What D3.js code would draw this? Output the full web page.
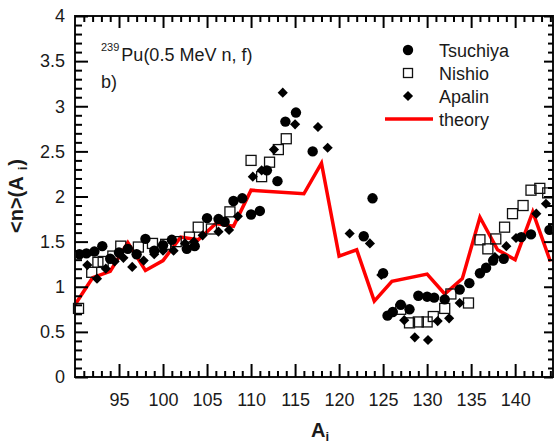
<!DOCTYPE html>
<html lang="en">
<head>
<meta charset="utf-8">
<title>239Pu neutron multiplicity</title>
<script src="https://cdn.jsdelivr.net/npm/d3@7"></script>
<style>
  body { margin: 0; background: #fff; }
  svg { display: block; }
  svg text { font-family: "Liberation Sans", Arial, sans-serif; fill: #1a1a1a; }
  .tick-label { font-size: 18px; }
</style>
</head>
<body>
<div id="chart"></div>
<script>
// data: [A, <n>]
var tsuchiya = [[90.5,1.36],[91.3,1.37],[92.2,1.39],[93.1,1.45],[94.0,1.31],[95.0,1.38],[96.0,1.42],[97.0,1.36],
  [98.0,1.53],[99.0,1.40],[100.0,1.46],[101.0,1.52],[102.7,1.42],[103.6,1.45],[105.0,1.76],[106.3,1.75],
  [107.0,1.72],[108.0,1.95],[109.0,1.98],[110.0,1.80],[111.0,1.84],[111.8,2.29],[113.0,2.17],[113.9,2.83],
  [115.1,2.93],[117.0,2.50],[122.8,1.56],[123.8,1.98],[125.0,1.15],[125.5,0.68],[126.1,0.72],[127.0,0.80],
  [128.0,0.75],[129.0,0.90],[130.0,0.89],[130.8,0.88],[132.0,0.86],[133.7,0.97],[134.8,1.04],[136.0,1.15],
  [136.7,1.21],[137.5,1.29],[138.7,1.31],[140.7,1.55],[141.8,1.58],[143.9,1.63]];
var nishio = [[90.4,0.76],[91.9,1.16],[92.6,1.27],[93.2,1.28],[94.3,1.34],[95.2,1.45],[97.2,1.44],[98.8,1.48],
  [100.3,1.47],[101.5,1.50],[103.0,1.55],[104.0,1.66],[105.5,1.64],[107.6,1.83],[110.0,2.40],[111.2,2.22],
  [112.1,2.38],[113.1,2.52],[114.0,2.64],[127.0,0.75],[128.0,0.60],[129.0,0.61],[130.0,0.61],[130.7,0.67],
  [132.0,0.76],[132.7,0.92],[134.7,0.82],[136.0,1.52],[136.9,1.42],[137.8,1.53],[138.8,1.66],[139.7,1.81],
  [140.9,1.90],[141.8,2.07],[142.8,2.09],[143.7,2.04]];
var apalin = [[91.4,1.24],[92.5,1.09],[93.5,1.20],[94.5,1.28],[95.5,1.32],[96.5,1.22],[97.8,1.29],[99.0,1.36],
  [100.0,1.40],[101.2,1.40],[102.5,1.48],[103.5,1.50],[104.5,1.57],[106.3,1.61],[107.5,1.63],[108.5,1.78],
  [110.2,2.22],[111.2,2.29],[112.6,2.52],[113.6,3.15],[115.0,2.80],[117.6,2.77],[118.7,2.54],[121.2,1.59],
  [123.5,1.48],[124.8,1.13],[126.0,0.72],[127.4,0.63],[128.6,0.44],[130.1,0.41],[131.2,0.62],[132.5,0.65],
  [133.7,0.82],[137.7,1.33],[139.0,1.45],[140.1,1.54],[142.4,1.81],[143.5,1.92]];
var theoryA = [90,92,94,96,98,100,102,104,106,108,110,116,118,120,122,124,126,130,132,134,136,138,140,142,144];
var theoryN = [0.80,1.10,1.17,1.49,1.18,1.29,1.55,1.52,1.70,1.67,2.07,2.03,2.37,1.34,1.41,0.84,1.06,1.14,0.92,1.09,1.77,1.41,1.30,1.83,1.28];

var xMajor = [95,100,105,110,115,120,125,130,135,140];
var yMajor = [0,0.5,1,1.5,2,2.5,3,3.5,4];
var legendNames = ["Tsuchiya","Nishio","Apalin","theory"];

var W = 554, H = 444;
var pL = 75, pR = 553, pT = 16, pB = 377;

var svg = d3.select("#chart").append("svg").attr("width", W).attr("height", H);

var x = d3.scaleLinear().domain([90, 144.3]).range([pL, pR]);
var y = d3.scaleLinear().domain([0, 4]).range([pB, pT]);

var xMinor = d3.range(91, 145, 1).filter(function(v){ return v % 5 != 0; });
var yMinor = d3.range(1, 40, 1).filter(function(v){ return v % 5 != 0; }).map(function(v){ return v / 10; });

// tick labels through d3 axes
var xAxis = svg.append("g").attr("transform", "translate(0," + pB + ")")
  .call(d3.axisBottom(x).tickValues(xMajor).tickSize(0).tickPadding(16).tickFormat(d3.format("d")));
var yAxis = svg.append("g").attr("transform", "translate(" + pL + ",0)")
  .call(d3.axisLeft(y).tickValues(yMajor).tickSize(0).tickPadding(10).tickFormat(d3.format("")));
[xAxis, yAxis].forEach(function(g){
  g.select(".domain").remove();
  g.selectAll("text").attr("class", "tick-label");
});

var plot = svg.append("g");

// theory line
var line = d3.line().x(function(d){ return x(d[0]); }).y(function(d){ return y(d[1]); });
plot.append("path").datum(theoryA.map(function(a, i){ return [a, theoryN[i]]; }))
  .attr("d", line).attr("fill", "none").attr("stroke", "#ff0000").attr("stroke-width", 3.5)
  .attr("stroke-linejoin", "miter");

// markers
plot.selectAll(".nishio").data(nishio).enter().append("rect")
  .attr("x", function(d){ return x(d[0]) - 5; }).attr("y", function(d){ return y(d[1]) - 5; })
  .attr("width", 10).attr("height", 10).attr("fill", "none").attr("stroke", "#111").attr("stroke-width", 1.3);

plot.selectAll(".tsu").data(tsuchiya).enter().append("circle")
  .attr("cx", function(d){ return x(d[0]); }).attr("cy", function(d){ return y(d[1]); })
  .attr("r", 5.2).attr("fill", "#000");

plot.selectAll(".apa").data(apalin).enter().append("rect")
  .attr("x", -3.6).attr("y", -3.6).attr("width", 7.2).attr("height", 7.2).attr("fill", "#000")
  .attr("transform", function(d){ return "translate(" + x(d[0]) + "," + y(d[1]) + ") rotate(45)"; });

// frame
svg.append("rect").attr("x", pL).attr("y", pT).attr("width", pR - pL).attr("height", pB - pT)
  .attr("fill", "none").attr("stroke", "#111").attr("stroke-width", 2);

// inward tick marks on all four sides
function inward(g) {
  g.select(".domain").remove();
  g.selectAll(".tick line").attr("stroke", "#000").attr("stroke-width", 2);
}
function ticksOn(axisFn, scale, pos, vals, len) {
  svg.append("g").attr("transform", pos)
    .call(axisFn(scale).tickValues(vals).tickSize(len).tickFormat("")).call(inward);
}
ticksOn(d3.axisTop, x, "translate(0," + pB + ")", xMajor, 13);
ticksOn(d3.axisTop, x, "translate(0," + pB + ")", xMinor, 6);
ticksOn(d3.axisBottom, x, "translate(0," + pT + ")", xMajor, 12);
ticksOn(d3.axisBottom, x, "translate(0," + pT + ")", xMinor, 6);
ticksOn(d3.axisRight, y, "translate(" + pL + ",0)", yMajor, 13);
ticksOn(d3.axisRight, y, "translate(" + pL + ",0)", yMinor, 7);
ticksOn(d3.axisLeft, y, "translate(" + pR + ",0)", yMajor, 9);
ticksOn(d3.axisLeft, y, "translate(" + pR + ",0)", yMinor, 5);

// legend
var lg = svg.append("g");
var lx = 408, ly = [50, 73, 96, 119];
lg.append("circle").attr("cx", lx).attr("cy", ly[0]).attr("r", 5.2).attr("fill", "#000");
lg.append("rect").attr("x", lx - 4.5).attr("y", ly[1] - 4.5).attr("width", 9).attr("height", 9)
  .attr("fill", "none").attr("stroke", "#111").attr("stroke-width", 1.3);
lg.append("rect").attr("x", -3.6).attr("y", -3.6).attr("width", 7.2).attr("height", 7.2).attr("fill", "#000")
  .attr("transform", "translate(" + lx + "," + ly[2] + ") rotate(45)");
lg.append("line").attr("x1", 385).attr("x2", 433).attr("y1", ly[3]).attr("y2", ly[3])
  .attr("stroke", "#ff0000").attr("stroke-width", 3.5);
lg.selectAll("text").data(legendNames).enter().append("text")
  .attr("x", 439).attr("y", function(d, i){ return ly[i] + 7; })
  .style("font-size", "18px").text(function(d){ return d; });

// annotation
var ann = svg.append("text").attr("x", 101).attr("y", 61).style("font-size", "18px");
ann.append("tspan").style("font-size", "11px").attr("dy", -10).text("239");
ann.append("tspan").attr("dx", 2).attr("dy", 10).text("Pu(0.5 MeV n, f)");
svg.append("text").attr("x", 101).attr("y", 88).style("font-size", "18px").text("b)");

// axis titles
var xt = svg.append("text").attr("x", 311).attr("y", 437).style("font-size", "20px").style("font-weight", "bold");
xt.append("tspan").text("A");
xt.append("tspan").style("font-size", "13px").attr("dy", 4).text("i");

var yt = svg.append("text").attr("transform", "translate(23,196) rotate(-90)")
  .attr("text-anchor", "middle").style("font-size", "20px").style("font-weight", "bold");
yt.append("tspan").text("<n>(A");
yt.append("tspan").style("font-size", "13px").attr("dx", 6).attr("dy", 4).text("i");
yt.append("tspan").attr("dx", 1).attr("dy", -4).text(")");
</script>
</body>
</html>
